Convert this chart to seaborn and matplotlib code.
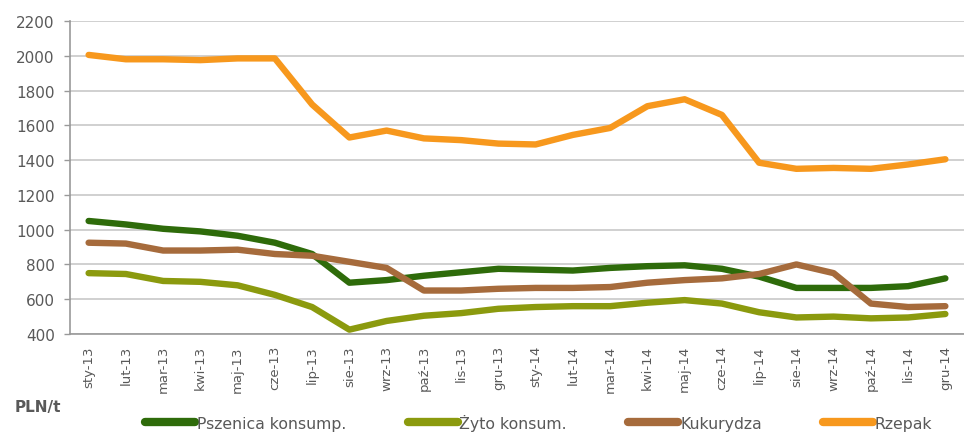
import pandas as pd
import seaborn as sns
import matplotlib.pyplot as plt

months = ['sty-13', 'lut-13', 'mar-13', 'kwi-13', 'maj-13', 'cze-13', 'lip-13', 'sie-13',
          'wrz-13', 'paź-13', 'lis-13', 'gru-13', 'sty-14', 'lut-14', 'mar-14', 'kwi-14',
          'maj-14', 'cze-14', 'lip-14', 'sie-14', 'wrz-14', 'paź-14', 'lis-14', 'gru-14']

pszenica = [1050, 1030, 1005, 990, 965, 925, 860, 695, 710, 735, 755, 775,
            770, 765, 780, 790, 795, 775, 730, 665, 665, 665, 675, 720]
zyto = [750, 745, 705, 700, 680, 625, 555, 425, 475, 505, 520, 545,
        555, 560, 560, 580, 595, 575, 525, 495, 500, 490, 495, 515]
kukurydza = [925, 920, 880, 880, 885, 860, 850, 815, 780, 650, 650, 660,
             665, 665, 670, 695, 710, 720, 745, 800, 750, 575, 555, 560]
rzepak = [2005, 1980, 1980, 1975, 1985, 1985, 1720, 1530, 1570, 1525, 1515, 1495,
          1490, 1545, 1585, 1710, 1750, 1660, 1385, 1350, 1355, 1350, 1375, 1405]

series = ['Pszenica konsump.', 'Żyto konsum.', 'Kukurydza', 'Rzepak']
colors = ['#2e6b0a', '#8b9a0e', '#a66b3c', '#f7981d']

df = pd.DataFrame({
    'x': list(range(len(months))) * 4,
    'cena': pszenica + zyto + kukurydza + rzepak,
    'seria': [s for s in series for _ in months],
})

sns.set_style('white')
plt.rcParams['font.family'] = ['DejaVu Sans']

fig = plt.figure(figsize=(9.64, 4.35), dpi=100)
ax = fig.add_axes([0.0726, 0.2299, 0.9274, 0.7195])

sns.lineplot(data=df, x='x', y='cena', hue='seria', palette=colors, hue_order=series,
             linewidth=4.6, ax=ax, legend=False)

txt = '#595959'
ax.set_xlim(-0.5, 23.5)
ax.set_ylim(400, 2200)
ax.set_yticks(range(400, 2201, 200))
ax.set_yticklabels([str(v) for v in range(400, 2201, 200)], fontsize=11, color=txt)
ax.set_xticks(range(len(months)))
ax.set_xticklabels(months, rotation=90, fontsize=9.5, color=txt)
ax.set_xticks([i - 0.5 for i in range(len(months) + 1)], minor=True)
ax.tick_params(axis='x', which='major', length=0, pad=8)
ax.tick_params(axis='x', which='minor', length=5, color='#999999', width=1, direction='out')
ax.tick_params(axis='y', length=4, color='#999999', width=1, direction='out', left=True, pad=7)
ax.yaxis.grid(True, color='#c8c8c8', linewidth=1.2)
ax.set_axisbelow(True)
for s in ['top', 'right']:
    ax.spines[s].set_visible(False)
for s in ['left', 'bottom']:
    ax.spines[s].set_color('#999999')
    ax.spines[s].set_linewidth(1.2)
ax.set_xlabel('')
ax.set_ylabel('')

handles = [plt.Line2D([], [], color=c, linewidth=6, solid_capstyle='round') for c in colors]
fig.legend(handles, series, loc='center left', bbox_to_anchor=(0.136, 0.027), ncol=4,
           frameon=False, fontsize=11.3, handlelength=3.2, handletextpad=0.1,
           columnspacing=3.9, labelcolor=txt)
fig.text(0.015, 0.052, 'PLN/t', fontsize=11, color=txt, fontweight='bold')

fig.savefig('out.png', dpi=100)
